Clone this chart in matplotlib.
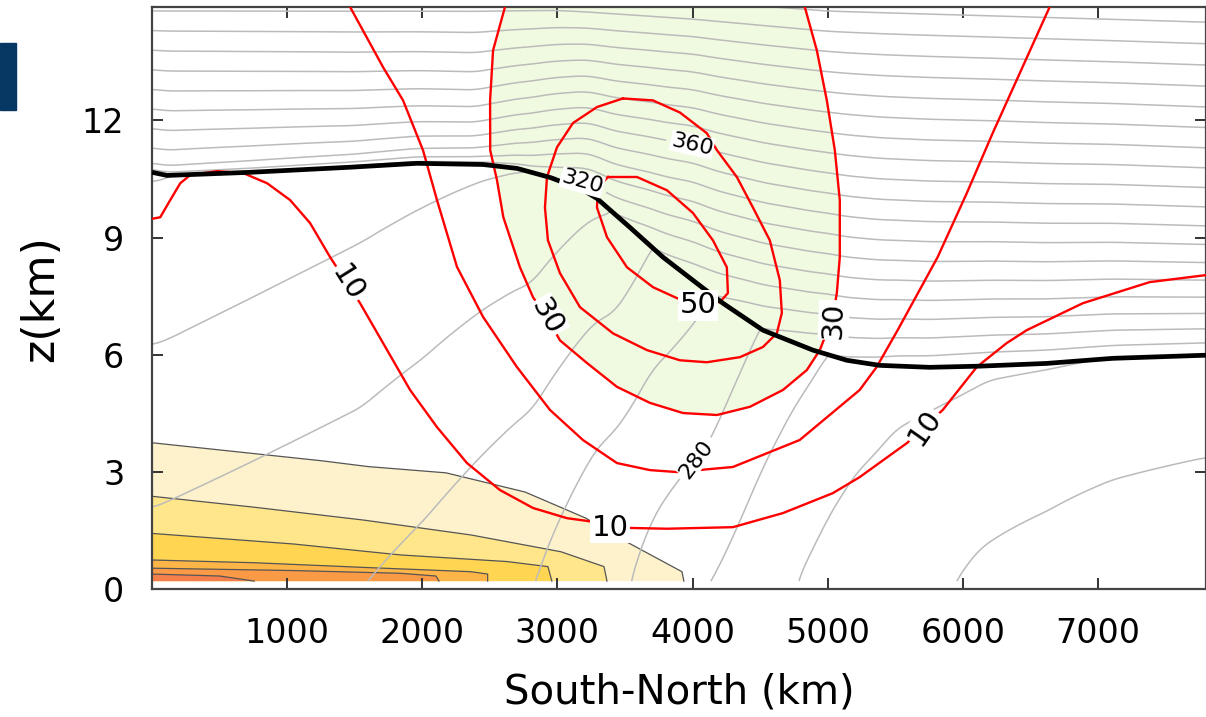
import numpy as np
import matplotlib
matplotlib.use('Agg')
import matplotlib.pyplot as plt
from matplotlib.patches import Rectangle

# ---- data (x in km, z in km) ----

# tropopause (thick black line)
trop_x = [0, 112, 726, 1466, 1961, 2450, 2701, 2945, 3189, 3293, 3537, 3781, 4032, 4225, 4521, 4891, 5142, 5386, 5756, 6126, 6621, 7109, 7800]
trop_z = [10.67, 10.59, 10.67, 10.80, 10.90, 10.87, 10.77, 10.54, 10.22, 10.0, 9.26, 8.50, 7.83, 7.32, 6.63, 6.12, 5.86, 5.73, 5.68, 5.71, 5.78, 5.91, 5.99]

# wind speed isotachs (red), m/s
w10_x = [0, 61, 135, 209, 283, 483, 675, 852, 1022, 1170, 1318, 1444, 1540, 1710, 1910, 2109, 2331, 2575, 2820, 3071, 3219, 3537, 3811, 4299, 4669, 5038, 5237, 5586, 5852, 6104, 6325, 6473, 6888, 7383, 7800]
w10_z = [9.48, 9.52, 9.96, 10.39, 10.60, 10.70, 10.65, 10.39, 9.96, 9.37, 8.50, 7.83, 7.32, 6.30, 5.10, 4.15, 3.23, 2.54, 2.08, 1.82, 1.75, 1.57, 1.55, 1.59, 1.95, 2.46, 2.87, 3.74, 4.59, 5.69, 6.30, 6.63, 7.32, 7.86, 8.04]

w20_x = [1466, 1710, 1858, 2006, 2109, 2257, 2450, 2700, 2945, 3189, 3441, 3685, 3885, 4299, 4793, 5237, 5363, 5518, 5814, 6029, 6221, 6421, 6643]
w20_z = [14.9, 13.36, 12.51, 11.23, 9.96, 8.25, 6.97, 5.69, 4.59, 3.82, 3.23, 3.05, 3.00, 3.13, 3.82, 5.10, 5.69, 6.63, 8.50, 10.13, 11.67, 13.20, 14.9]

w30_x = [2612, 2524, 2502, 2503, 2553, 2600, 2723, 2820, 2923, 3019, 3219, 3441, 3685, 3930, 4181, 4425, 4669, 4846, 4942, 5038, 5068, 5090, 5090, 5053, 4994, 4920, 4831]
w30_z = [14.9, 13.79, 12.51, 11.23, 10.47, 9.52, 8.24, 7.47, 6.97, 6.37, 5.79, 5.18, 4.77, 4.51, 4.46, 4.67, 5.10, 5.61, 6.12, 6.97, 7.58, 8.50, 9.96, 11.24, 12.51, 13.79, 14.9]

w40_x = [3485, 3707, 3907, 4106, 4180, 4328, 4447, 4572, 4646, 4661, 4624, 4521, 4351, 4106, 3907, 3663, 3411, 3167, 3019, 2930, 2908, 2923, 2997, 3115, 3293, 3485]
w40_z = [12.56, 12.51, 12.20, 11.67, 11.24, 10.55, 9.77, 8.93, 7.91, 7.07, 6.55, 6.20, 5.94, 5.81, 5.86, 6.12, 6.55, 7.22, 8.09, 8.93, 9.77, 10.55, 11.31, 11.93, 12.34, 12.56]

w50_x = [3375, 3589, 3811, 4003, 4151, 4254, 4262, 4203, 4033, 3885, 3708, 3515, 3367, 3293, 3300, 3375]
w50_z = [10.55, 10.55, 10.21, 9.63, 8.93, 8.24, 7.58, 7.35, 7.32, 7.45, 7.73, 8.24, 9.01, 9.77, 10.29, 10.55]

# isotach labels
wlab_x = [1444, 2923, 4040, 5045, 3389, 5720]
wlab_z = [7.83, 6.97, 7.27, 6.89, 1.58, 4.14]
wlab_txt = ['10', '30', '50', '30', '10', '10']
wlab_rot = [-58, -60, 0, 88, 0, 55]

# potential temperature (gray), K
sfc_x = [0, 1553, 2835, 3545, 4100, 4765, 5932, 6127, 6622, 7110, 7800]
sfc_theta = [305, 300, 290, 280, 270, 260, 250, 248.3, 245.5, 242, 238.4]
thT_x = [0, 2800, 3411, 3700, 4150, 4500, 5000, 5500, 6200, 7800]
thT_val = [330.6, 320, 310, 300, 290, 280, 270, 264, 261, 259]
lapse_x = [0, 2000, 3300, 3700, 4100, 4700, 5200, 6000, 7800]
lapse_p = [1.0, 1.1, 1.45, 1.3, 1.0, 1.3, 1.6, 1.2, 1.0]
jump_x = [0, 1500, 2600, 3200, 7800]
jump_val = [17, 14, 6, 0, 0]
strat_x = [0, 2400, 3200, 4000, 5500, 7800]
strat_q = [1.0, 0.7, 0.95, 1.1, 0.95, 0.85]
top_x = [0, 3000, 5000, 7800]
top_theta = [432, 432, 442, 447]
theta_levels = list(range(250, 451, 10))
label_levels = [280, 320, 360]
tlab_pos = [(4040, 3.3), (3189, 10.52), (4003, 11.47)]

# shaded near-surface field (boundaries, outermost first)
band_x = [
    [0, 1252, 1600, 2176, 2760, 3211, 3530, 3922, 3936],
    [0, 757, 1569, 2361, 3027, 3345, 3367],
    [0, 1044, 1836, 2627, 2930, 2959],
    [0, 757, 1569, 2361, 2484, 2484],
    [0, 1044, 1836, 2102, 2124],
    [0, 500, 757],
]
band_z = [
    [3.75, 3.29, 3.14, 2.98, 2.49, 1.82, 1.18, 0.45, 0.21],
    [2.38, 2.10, 1.77, 1.39, 0.96, 0.58, 0.21],
    [1.43, 1.16, 0.88, 0.71, 0.58, 0.21],
    [0.75, 0.68, 0.56, 0.45, 0.39, 0.21],
    [0.54, 0.48, 0.41, 0.34, 0.21],
    [0.39, 0.34, 0.21],
]
band_colors = ['#FDF2CC', '#FFE68A', '#FFD551', '#FDB547', '#FA9A47', '#F57F4C']

Z_BOT, Z_TOP, X_MAX = 0.21, 14.9, 7800


def smooth(a, n=13):
    pad = np.pad(a, n // 2, mode='edge')
    return np.convolve(pad, np.ones(n) / n, mode='valid')


# ---- theta field built from the values above ----
xx = np.linspace(0, X_MAX, 700)
zz = np.linspace(Z_BOT, Z_TOP, 500)
X, Z = np.meshgrid(xx, zz)
h = smooth(np.interp(xx, trop_x, trop_z))
ths = smooth(np.interp(xx, sfc_x, sfc_theta))
thT = smooth(np.interp(xx, thT_x, thT_val))
p = smooth(np.interp(xx, lapse_x, lapse_p))
J = smooth(np.interp(xx, jump_x, jump_val))
q = smooth(np.interp(xx, strat_x, strat_q))
thtop = smooth(np.interp(xx, top_x, top_theta))

frac = np.clip(Z / h, 0, None)
th_trop = ths + (thT - ths) * frac ** p
d = np.clip(Z - h, 0, None)
D = Z_TOP - h
th_strat = thT + J * (1 - np.exp(-d / 0.12)) + (thtop - thT - J) * (d / D) ** q
TH = np.where(Z < h, th_trop, th_strat)

# ---- figure ----
fig = plt.figure(figsize=(12.06, 7.17), dpi=100)
ax = fig.add_axes([152 / 1206, 1 - 589.3 / 717, 1 - 152 / 1206, (589.3 - 7) / 717])

for bx, bz, c in zip(band_x, band_z, band_colors):
    ax.fill(bx + [0], bz + [Z_BOT], color=c, lw=0, zorder=1)
    ax.plot(bx, bz, color='#555555', lw=0.9, zorder=1.5)

ax.fill(w30_x, w30_z, color='#F0FAE1', lw=0, zorder=1)

plain = [lv for lv in theta_levels if lv not in label_levels]
ax.contour(X, Z, TH, levels=plain, colors='#BBBBBB', linewidths=1.1, zorder=2)
cs = ax.contour(X, Z, TH, levels=label_levels, colors='#BBBBBB', linewidths=1.1, zorder=2)
tl = ax.clabel(cs, manual=tlab_pos, inline=True, fmt='%d', fontsize=16)
for t in tl:
    t.set_color('black')
    t.set_bbox(dict(facecolor='white', edgecolor='none', pad=0.5))
    t.set_zorder(9)

for wx, wz in [(w10_x, w10_z), (w20_x, w20_z), (w30_x, w30_z), (w40_x, w40_z), (w50_x, w50_z)]:
    ax.plot(wx, wz, color='#FF0000', lw=1.7, zorder=5, solid_joinstyle='round')

ax.plot(trop_x, trop_z, color='black', lw=3.4, zorder=6, solid_capstyle='butt')

for x, z, s, r in zip(wlab_x, wlab_z, wlab_txt, wlab_rot):
    ax.text(x, z, s, fontsize=21, rotation=r, ha='center', va='center', zorder=9,
            bbox=dict(facecolor='white', edgecolor='none', pad=1.0))

ax.set_xlim(0, X_MAX)
ax.set_ylim(0, Z_TOP)
ax.set_xticks([1000, 2000, 3000, 4000, 5000, 6000, 7000])
ax.set_yticks([0, 3, 6, 9, 12])
ax.tick_params(direction='in', length=8, width=1.4, top=True, right=True,
               labelsize=24, color='#333333')
ax.tick_params(axis='x', pad=20)
ax.tick_params(axis='y', pad=20)
for s in ax.spines.values():
    s.set_linewidth(1.6)
    s.set_color('#444444')
ax.set_xlabel('South-North (km)', fontsize=29, labelpad=16)
ax.set_ylabel('z(km)', fontsize=32, labelpad=14)

fig.patches.append(Rectangle((0, 1 - 110 / 717), 16 / 1206, 67 / 717,
                             transform=fig.transFigure, color='#073763'))

fig.savefig('out.png', dpi=100)
